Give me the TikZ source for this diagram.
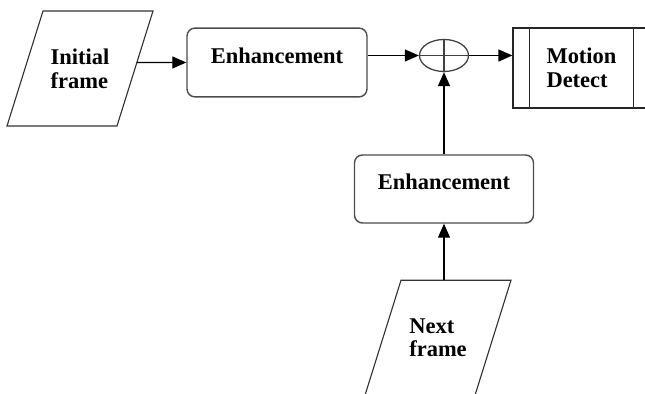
\documentclass[tikz,border=0pt]{standalone}
\usepackage{fontspec}
\setmainfont{Liberation Serif}
\usetikzlibrary{shapes.geometric,arrows.meta,calc}
\begin{document}
\begin{tikzpicture}[
  font=\fontsize{16}{17}\selectfont\bfseries,
  frame/.style={draw=black!80,line width=0.8pt},
  enh/.style={draw=black!70,line width=1pt,rounded corners=0.2cm,minimum width=4.5cm,minimum height=1.72cm,inner ysep=0pt,text height=0.375cm,text depth=0.325cm},
  arr/.style={-{Triangle[length=0.35cm,width=0.3cm]},line width=0.9pt}
]
\useasboundingbox (0,0) rectangle (16.125,9.85);

\node[align=left] (init) at (2.0,8.1375) {Initial\\frame};
\draw[frame] ($(init)+(-0.925,1.4375)$) -- ++(2.75,0) -- ++(-0.9,-2.875) -- ++(-2.75,0) -- cycle;
\coordinate (init-out) at ($(init)+(1.42,0.15)$);

\node[enh] (enh1) at (6.925,8.2875) {Enhancement};

\node[draw=black!75,line width=0.9pt,ellipse,minimum width=1.225cm,minimum height=0.8cm,inner sep=0pt] (sum) at (11.1,8.4625) {};
\draw[line width=0.9pt,black!75] (sum.north) -- (sum.south) (sum.west) -- (sum.east);

\node[draw=black!85,line width=0.9pt,minimum width=3.425cm,minimum height=2cm,align=left] (md) at (14.5375,8.15) {Motion\\Detect};
\draw[line width=0.9pt,black!85] ([xshift=0.425cm]md.north west) -- ([xshift=0.425cm]md.south west)
  ([xshift=-0.425cm]md.north east) -- ([xshift=-0.425cm]md.south east);

\node[enh,minimum width=4.475cm,minimum height=1.7cm] (enh2) at (11.1,5.125) {Enhancement};

\node[align=left] (next) at (10.95,1.40625) {Next\\frame};
\draw[frame] ($(next)+(-0.925,1.4375)$) -- ++(2.75,0) -- ++(-0.9,-2.875) -- ++(-2.75,0) -- cycle;
\coordinate (next-in) at ($(next)+(0,1.4375)$);

\draw[arr] (init-out) -- (enh1.west);
\draw[arr] (enh1.east |- sum) -- (sum);
\draw[arr] (sum) -- (md.west |- sum);
\draw[arr] (enh2) -- (sum);
\draw[arr] (enh2.south |- next-in) -- (enh2.south);
\end{tikzpicture}
\end{document}
